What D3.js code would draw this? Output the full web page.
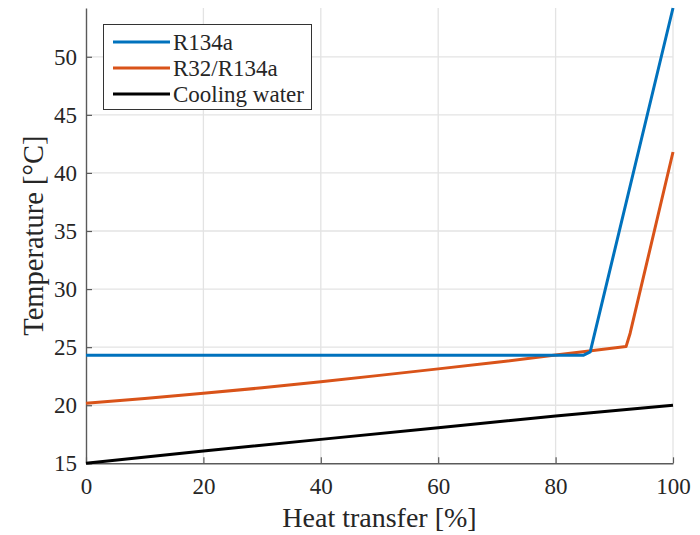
<!DOCTYPE html>
<html>
<head>
<meta charset="utf-8">
<script src="https://cdn.jsdelivr.net/npm/d3@7"></script>
<style>
  html, body { margin: 0; padding: 0; background: #fff; }
  svg { display: block; }
  text { font-family: "Liberation Serif", "Times New Roman", serif; fill: #262626; }
</style>
</head>
<body>
<svg id="chart" width="700" height="535"></svg>
<script>
// Heat transfer share [%] and temperature [°C] for each stream
const r134aX = [0, 84.7, 85.9, 100];
const r134aT = [24.3, 24.3, 24.6, 54.2];

const blendX = [0, 10, 20, 30, 40, 50, 60, 70, 80, 85, 92, 92.7, 100];
const blendT = [20.17, 20.58, 21.03, 21.5, 22.03, 22.57, 23.13, 23.7, 24.32, 24.62, 25.05, 26.2, 41.8];

const waterX = [0, 20, 40, 60, 80, 100];
const waterT = [15, 16.05, 17.06, 18.07, 19.07, 20.0];

const seriesNames = ["R134a", "R32/R134a", "Cooling water"];
const seriesColors = ["#0072BD", "#D95319", "#000000"];

const xTicks = [0, 20, 40, 60, 80, 100];
const yTicks = [15, 20, 25, 30, 35, 40, 45, 50];

const serif = "'Liberation Serif', 'Times New Roman', serif";
const svg = d3.select("#chart");
const plotL = 86, plotR = 673, plotT = 8, plotB = 463.3;

const x = d3.scaleLinear().domain([0, 100]).range([plotL, plotR]);
const y = d3.scaleLinear().domain([15, d3.max(r134aT)]).range([plotB, plotT]);

// grid
const grid = svg.append("g");
grid.selectAll(".gx").data(xTicks.slice(1)).enter().append("line")
  .attr("x1", d => x(d)).attr("x2", d => x(d))
  .attr("y1", plotT).attr("y2", plotB)
  .attr("stroke", "#e3e3e3").attr("stroke-width", 1.3);
grid.selectAll(".gy").data(yTicks.slice(1)).enter().append("line")
  .attr("x1", plotL).attr("x2", plotR)
  .attr("y1", d => y(d)).attr("y2", d => y(d))
  .attr("stroke", "#e3e3e3").attr("stroke-width", 1.3);

// axes with inward ticks
const xAxis = d3.axisBottom(x).tickValues(xTicks).tickSizeInner(-6).tickSizeOuter(0).tickPadding(14);
const yAxis = d3.axisLeft(y).tickValues(yTicks).tickSizeInner(-6).tickSizeOuter(0).tickPadding(9);

const gx = svg.append("g").attr("transform", `translate(0,${plotB})`).call(xAxis);
const gy = svg.append("g").attr("transform", `translate(${plotL},0)`).call(yAxis);
[gx, gy].forEach(g => {
  g.attr("font-family", serif).attr("font-size", 23);
  g.select(".domain").attr("stroke", "#5a5a5a").attr("stroke-width", 1.4);
  g.selectAll(".tick line").attr("stroke", "#5a5a5a").attr("stroke-width", 1.2);
  g.selectAll(".tick text").style("font-family", serif)
    .style("font-size", "23px").attr("fill", "#262626");
});

// series lines
const line = d3.line().x(d => x(d[0])).y(d => y(d[1]));
const series = [
  d3.zip(r134aX, r134aT),
  d3.zip(blendX, blendT),
  d3.zip(waterX, waterT)
];
// black first, then orange, then blue on top
[2, 1, 0].forEach(i => {
  svg.append("path")
    .datum(series[i])
    .attr("fill", "none")
    .attr("stroke", seriesColors[i])
    .attr("stroke-width", 3)
    .attr("stroke-linejoin", "round")
    .attr("d", line);
});

// axis titles
svg.append("text")
  .attr("x", (plotL + plotR) / 2).attr("y", 527)
  .attr("text-anchor", "middle")
  .style("font-family", serif)
  .style("font-size", "28px")
  .text("Heat transfer [%]");
svg.append("text")
  .attr("transform", `translate(43,${(plotT + plotB) / 2}) rotate(-90)`)
  .attr("text-anchor", "middle")
  .style("font-family", serif)
  .style("font-size", "28.5px")
  .text("Temperature [°C]");

// legend
const lg = svg.append("g");
lg.append("rect")
  .attr("x", 103.5).attr("y", 24.5).attr("width", 208).attr("height", 85)
  .attr("fill", "#fff").attr("stroke", "#333").attr("stroke-width", 1);
seriesNames.forEach((name, i) => {
  const cy = 42 + i * 26;
  lg.append("line")
    .attr("x1", 113).attr("x2", 170).attr("y1", cy).attr("y2", cy)
    .attr("stroke", seriesColors[i]).attr("stroke-width", 3);
  lg.append("text")
    .attr("x", 173).attr("y", cy + 7.5)
    .style("font-family", serif)
    .style("font-size", "23px")
    .text(name);
});
</script>
</body>
</html>
